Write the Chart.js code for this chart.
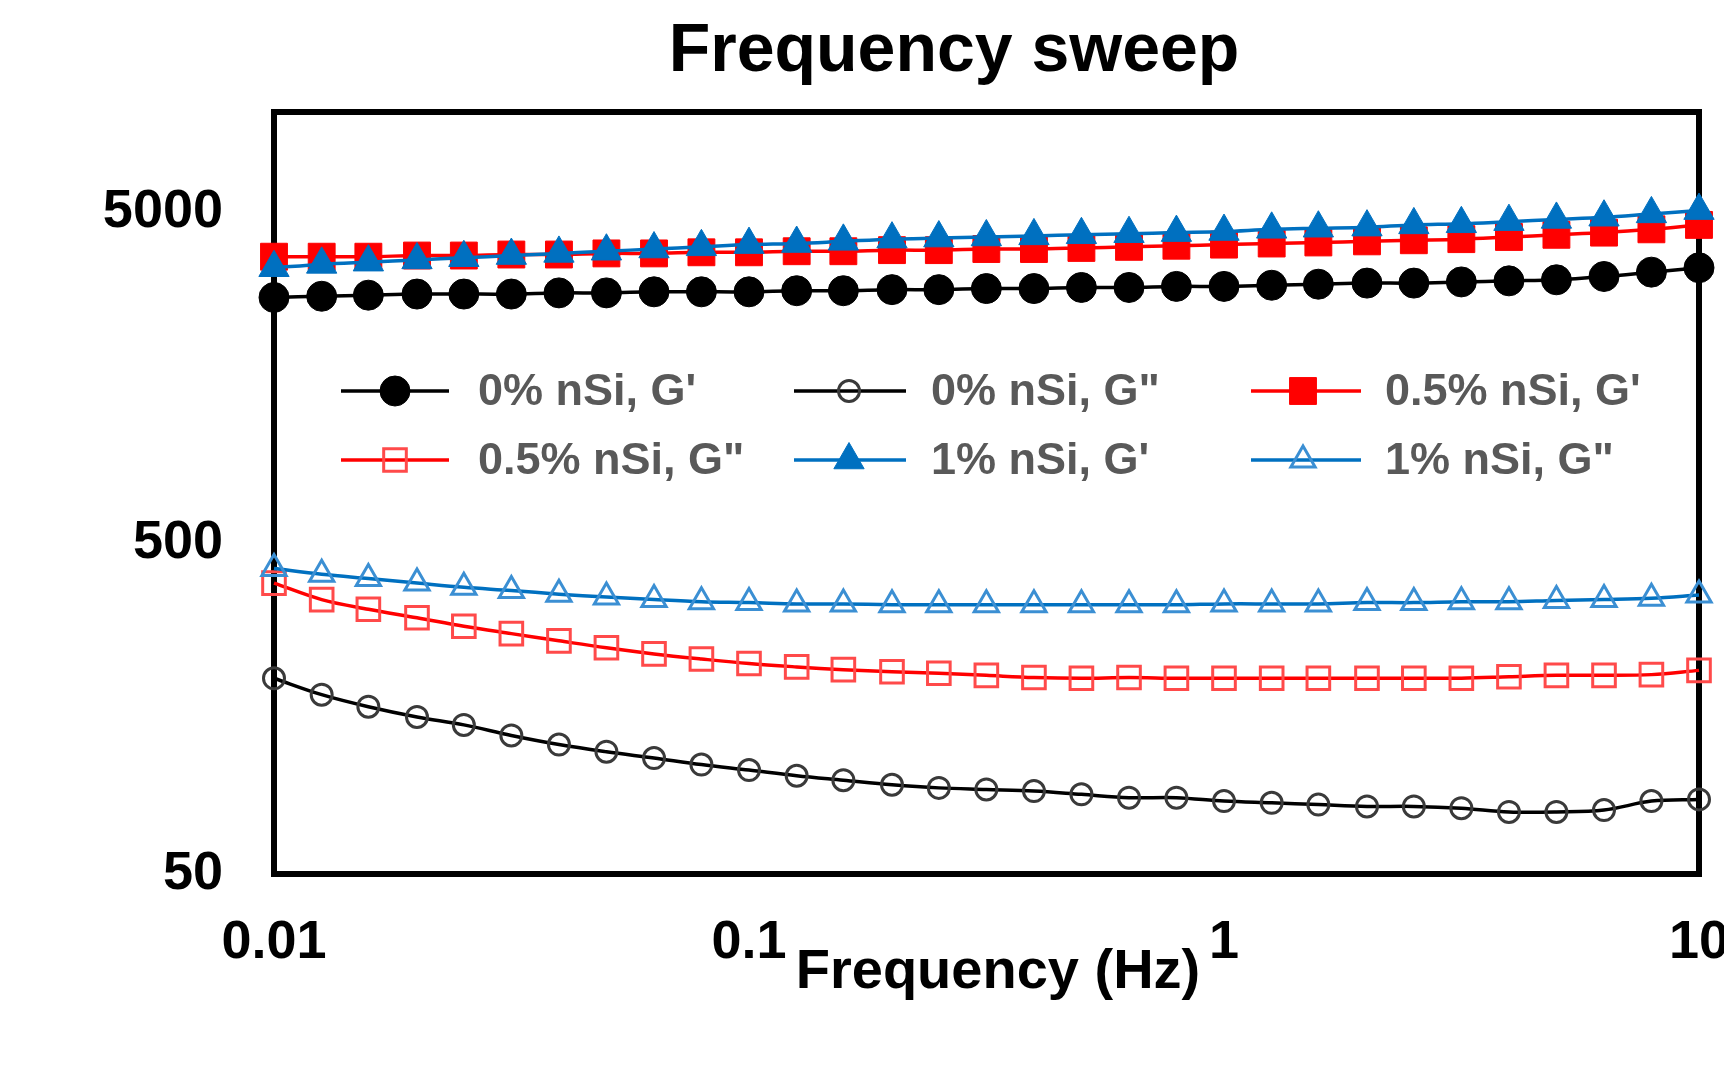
<!DOCTYPE html>
<html>
<head>
<meta charset="utf-8">
<script src="https://cdn.jsdelivr.net/npm/chart.js@4.4.1/dist/chart.umd.min.js"></script>
<style>
  html, body { margin: 0; padding: 0; background: #fff; }
  canvas { display: block; }
</style>
</head>
<body>
<canvas id="sweepChart" width="1724" height="1084"></canvas>
<script>
// Frequency points (Hz), 10 per decade
const frequencies = [0.01, 0.0126, 0.0158, 0.02, 0.0251, 0.0316, 0.0398, 0.0501, 0.0631, 0.0794,
    0.1, 0.126, 0.158, 0.2, 0.251, 0.316, 0.398, 0.501, 0.631, 0.794,
    1, 1.26, 1.58, 2, 2.51, 3.16, 3.98, 5.01, 6.31, 7.94, 10];

// Moduli (Pa)
const g1_0 = [2754, 2777, 2798, 2820, 2820, 2820, 2843, 2843, 2864, 2864, 2864, 2886, 2886, 2908, 2908, 2930,
    2930, 2952, 2952, 2974, 2974, 2998, 3020, 3043, 3043, 3068, 3091, 3114, 3186, 3284, 3386];
const g2_0 = [195, 174, 160, 149, 141, 131, 123, 117, 112, 107, 103, 99, 96, 93, 91, 90,
    89, 87, 85, 85, 83, 82, 81, 80, 80, 79, 77, 77, 78, 83, 84];
const g1_05 = [3656, 3656, 3656, 3686, 3686, 3712, 3712, 3741, 3741, 3770, 3770, 3798, 3798, 3827, 3827, 3857,
    3857, 3886, 3916, 3946, 3977, 4007, 4037, 4068, 4099, 4131, 4194, 4258, 4323, 4423, 4561];
const g2_05 = [378, 337, 315, 297, 280, 266, 253, 241, 231, 223, 216, 211, 207, 204, 202, 199,
    196, 195, 196, 195, 195, 195, 195, 195, 195, 195, 197, 199, 199, 200, 206];
const g1_1 = [3386, 3466, 3520, 3575, 3630, 3686, 3741, 3798, 3857, 3916, 3977, 4007, 4068, 4131, 4162, 4194,
    4226, 4258, 4290, 4323, 4356, 4423, 4457, 4491, 4561, 4596, 4666, 4738, 4811, 4924, 5038];
const g2_1 = [418, 402, 390, 378, 367, 359, 350, 343, 337, 332, 330, 327, 327, 325, 325, 325,
    325, 325, 325, 325, 327, 327, 327, 330, 330, 332, 332, 335, 337, 340, 348];

const xTicks = [0.01, 0.1, 1, 10];
const yTicks = [50, 500, 5000];
const seriesLabels = ["0% nSi, G'", '0% nSi, G"', "0.5% nSi, G'", '0.5% nSi, G"', "1% nSi, G'", '1% nSi, G"'];

const toPoints = arr => arr.map((v, i) => ({ x: frequencies[i], y: v }));

const makeSet = (label, values, opts) => Object.assign({
    label: label,
    data: toPoints(values),
    borderWidth: 3.5,
    tension: 0.35,
    clip: false,
    fill: false
}, opts);

const datasets = [
    makeSet(seriesLabels[0], g1_0, { borderColor: '#000', pointStyle: 'circle', pointRadius: 15,
        pointBackgroundColor: '#000', pointBorderColor: '#000', pointBorderWidth: 1, order: 4 }),
    makeSet(seriesLabels[1], g2_0, { borderColor: '#000', pointStyle: 'circle', pointRadius: 10.5,
        pointBackgroundColor: 'rgba(0,0,0,0)', pointBorderColor: '#3a3a3a', pointBorderWidth: 3, order: 5 }),
    makeSet(seriesLabels[2], g1_05, { borderColor: '#ff0000', pointStyle: 'rect', pointRadius: 19,
        pointBackgroundColor: '#ff0000', pointBorderColor: '#ff0000', pointBorderWidth: 1, order: 2 }),
    makeSet(seriesLabels[3], g2_05, { borderColor: '#ff0000', pointStyle: 'rect', pointRadius: 16,
        pointBackgroundColor: 'rgba(0,0,0,0)', pointBorderColor: '#ff4a4a', pointBorderWidth: 3, order: 3 }),
    makeSet(seriesLabels[4], g1_1, { borderColor: '#0070c0', pointStyle: 'triangle', pointRadius: 17.5,
        pointBackgroundColor: '#0070c0', pointBorderColor: '#0070c0', pointBorderWidth: 1, order: 0 }),
    makeSet(seriesLabels[5], g2_1, { borderColor: '#0070c0', pointStyle: 'triangle', pointRadius: 14,
        pointBackgroundColor: 'rgba(0,0,0,0)', pointBorderColor: '#3b8fd3', pointBorderWidth: 3, order: 1 })
];

const FONT = '"Liberation Sans", Arial, sans-serif';

// draws one marker the same way the chart does
function drawMarker(ctx, ds, x, y) {
    const r = ds.pointRadius;
    ctx.beginPath();
    if (ds.pointStyle === 'circle') {
        ctx.arc(x, y, r, 0, Math.PI * 2);
    } else if (ds.pointStyle === 'rect') {
        const s = r * Math.SQRT1_2;
        ctx.rect(x - s, y - s, 2 * s, 2 * s);
    } else {
        let a = 0;
        ctx.moveTo(x + Math.sin(a) * r, y - Math.cos(a) * r);
        a += Math.PI * 2 / 3;
        ctx.lineTo(x + Math.sin(a) * r, y - Math.cos(a) * r);
        a += Math.PI * 2 / 3;
        ctx.lineTo(x + Math.sin(a) * r, y - Math.cos(a) * r);
        ctx.closePath();
    }
    ctx.fillStyle = ds.pointBackgroundColor;
    ctx.fill();
    ctx.lineWidth = ds.pointBorderWidth;
    ctx.strokeStyle = ds.pointBorderColor;
    ctx.stroke();
}

const decorPlugin = {
    id: 'decor',
    beforeDatasetsDraw(chart) {
        const { ctx, chartArea: a } = chart;
        ctx.save();
        ctx.lineWidth = 6;
        ctx.strokeStyle = '#000';
        ctx.strokeRect(a.left, a.top, a.right - a.left, a.bottom - a.top);
        ctx.restore();
    },
    afterDraw(chart) {
        const ctx = chart.ctx;
        ctx.save();
        // title
        ctx.fillStyle = '#000';
        ctx.textAlign = 'center';
        ctx.textBaseline = 'middle';
        ctx.font = 'bold 68px ' + FONT;
        ctx.fillText('Frequency sweep', 954, 52);
        // x axis title
        ctx.font = 'bold 56px ' + FONT;
        ctx.fillText('Frequency (Hz)', 998, 973);

        // legend, 2 rows x 3 columns
        const cols = [{ l: 341, r: 449, m: 395, t: 478 }, { l: 794, r: 906, m: 849, t: 931 }, { l: 1251, r: 1361, m: 1303, t: 1385 }];
        const rows = [391, 460];
        ctx.font = 'bold 45px ' + FONT;
        ctx.textAlign = 'left';
        datasets.forEach((ds, i) => {
            const c = cols[i % 3];
            const y = rows[Math.floor(i / 3)];
            ctx.beginPath();
            ctx.moveTo(c.l, y);
            ctx.lineTo(c.r, y);
            ctx.lineWidth = 3.5;
            ctx.strokeStyle = ds.borderColor;
            ctx.stroke();
            drawMarker(ctx, ds, c.m, y);
            ctx.fillStyle = '#595959';
            ctx.fillText(ds.label, c.t, y + 2);
        });
        ctx.restore();
    }
};

new Chart(document.getElementById('sweepChart'), {
    type: 'line',
    data: { datasets: datasets },
    options: {
        responsive: false,
        animation: false,
        devicePixelRatio: 1,
        layout: { padding: { top: 112, right: 25, left: 0, bottom: 0 } },
        plugins: { legend: { display: false }, tooltip: { enabled: false }, title: { display: false } },
        scales: {
            x: {
                type: 'logarithmic',
                min: 0.01,
                max: 10,
                grid: { display: false, drawTicks: false },
                border: { display: false },
                afterBuildTicks: s => { s.ticks = xTicks.map(v => ({ value: v })); },
                afterFit: s => { s.height = 210; s.paddingLeft = 0; s.paddingRight = 0; },
                ticks: {
                    autoSkip: false,
                    maxRotation: 0,
                    padding: 37,
                    color: '#000',
                    font: { family: FONT, size: 54, weight: 'bold' },
                    callback: v => String(v)
                }
            },
            y: {
                type: 'logarithmic',
                min: 50,
                max: 10000,
                grid: { display: false, drawTicks: false },
                border: { display: false },
                afterBuildTicks: s => { s.ticks = yTicks.map(v => ({ value: v })); },
                afterFit: s => { s.width = 274; s.paddingTop = 0; s.paddingBottom = 0; },
                ticks: {
                    autoSkip: false,
                    padding: 51,
                    color: '#000',
                    font: { family: FONT, size: 54, weight: 'bold' },
                    callback: v => String(v)
                }
            }
        }
    },
    plugins: [decorPlugin]
});
</script>
</body>
</html>
